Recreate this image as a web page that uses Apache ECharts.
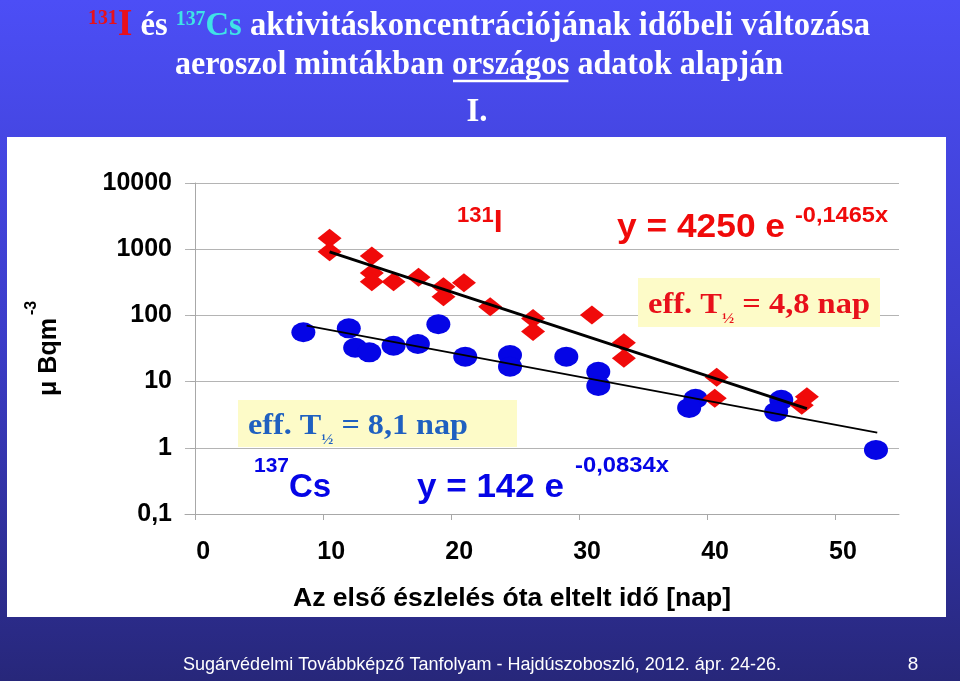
<!DOCTYPE html>
<html><head><meta charset="utf-8">
<script src="https://cdn.jsdelivr.net/npm/echarts@6/dist/echarts.min.js"></script>
<style>html,body{margin:0;padding:0;background:#3a3ad0}#c{width:960px;height:681px}</style>
</head><body><div id="c"></div>
<script>
// ---- data (day, activity concentration µBq/m3) ----
const iDays   = [10.5, 10.5, 13.8, 13.8, 13.8, 15.5, 17.45, 19.4, 19.4, 21.0, 23.05, 26.4, 26.4, 31.0, 33.5, 33.5, 40.75, 40.6, 47.8, 47.4];
const iValues = [1460, 917, 789, 437, 323, 323, 377, 272, 192, 312, 135, 90, 57, 101, 38.7, 22.5, 11.6, 5.6, 5.9, 4.4];
const csDays   = [8.45, 12.0, 12.5, 13.6, 15.5, 17.4, 19.0, 21.1, 24.6, 24.6, 29.0, 31.5, 31.5, 39.1, 38.6, 45.8, 45.4, 53.2];
const csValues = [55.6, 63.8, 32.5, 27.7, 34.8, 37, 73.5, 23.8, 25.2, 16.8, 23.8, 14.1, 8.6, 5.5, 4.0, 5.3, 3.5, 0.93];
// fitted trend lines (end points): y = 4250 e^-0.1465x  and  y = 142 e^-0.0834x
const iFitDays = [10.5, 47.8];
const iFitValues = [913, 3.9];
const csFitDays = [8.7, 53.3];
const csFitValues = [70, 1.7];
const xTickValues = [0, 10, 20, 30, 40, 50];
const yTickLabels = ['0,1', '1', '10', '100', '1000', '10000'];

const SANS = '"Liberation Sans", Arial, sans-serif';
const SERIF = '"Liberation Serif", "Times New Roman", serif';
const RED = '#f00a0a', BLUE = '#0505e6';

const ctx = document.createElement('canvas').getContext('2d');
function fontOf(s) { return (s.w || 'bold') + ' ' + s.size + 'px ' + (s.fam || SANS); }
function run(segs, opt) {
  const ws = segs.map(s => { ctx.font = fontOf(s); return ctx.measureText(s.t).width; });
  const tot = ws.reduce((a, b) => a + b, 0);
  const sc = opt.width ? opt.width / tot : 1;
  let x = opt.left != null ? opt.left : opt.center - tot * sc / 2;
  const els = [];
  segs.forEach((s, i) => {
    els.push({ type: 'text', x: x, y: s.bl - 0.32 * s.size, scaleX: sc, z: opt.z || 10, silent: true,
      style: { text: s.t, font: fontOf(s), fill: s.c, textAlign: 'left', verticalAlign: 'middle' } });
    s.x0 = x; s.x1 = x + ws[i] * sc;
    x += ws[i] * sc;
  });
  return els;
}

const graphics = [];
// slide background & white panel
graphics.push({ type: 'rect', z: -20, silent: true, shape: { x: 0, y: 0, width: 960, height: 681 },
  style: { fill: { type: 'linear', x: 0, y: 0, x2: 0, y2: 1, colorStops: [
    { offset: 0, color: '#4c4ef6' }, { offset: 0.5, color: '#3b3cc8' }, { offset: 1, color: '#27277a' }] } } });
graphics.push({ type: 'rect', z: -10, silent: true, shape: { x: 7, y: 137, width: 939, height: 480 }, style: { fill: '#ffffff' } });

// title
graphics.push(...run([
  { t: '131', size: 20, fam: SERIF, c: '#e8101a', bl: 25 },
  { t: 'I', size: 38, fam: SERIF, c: '#e8101a', bl: 37 },
  { t: ' és ', size: 33, fam: SERIF, c: '#ffffff', bl: 37 },
  { t: '137', size: 20, fam: SERIF, c: '#3fe3e6', bl: 26 },
  { t: 'Cs', size: 33, fam: SERIF, c: '#3fe3e6', bl: 37 },
  { t: ' aktivitáskoncentrációjának időbeli változása', size: 33, fam: SERIF, c: '#ffffff', bl: 37 }
], { left: 88, width: 782 }));
const l2 = [
  { t: 'aeroszol mintákban ', size: 33, fam: SERIF, c: '#ffffff', bl: 76 },
  { t: 'országos', size: 33, fam: SERIF, c: '#ffffff', bl: 76 },
  { t: ' adatok alapján', size: 33, fam: SERIF, c: '#ffffff', bl: 76 }
];
graphics.push(...run(l2, { left: 175, width: 608 }));
graphics.push({ type: 'line', z: 10, silent: true, shape: { x1: l2[1].x0 + 1, y1: 81, x2: l2[1].x1 - 1, y2: 81 },
  style: { stroke: '#ffffff', lineWidth: 2.5 } });
graphics.push(...run([{ t: 'I.', size: 33, fam: SERIF, c: '#ffffff', bl: 123 }], { center: 477 }));

// footer
graphics.push(...run([{ t: 'Sugárvédelmi Továbbképző Tanfolyam - Hajdúszoboszló, 2012. ápr. 24-26.', size: 19, w: 'normal', c: '#ffffff', bl: 671 }], { left: 183, width: 598 }));
graphics.push(...run([{ t: '8', size: 19, w: 'normal', c: '#ffffff', bl: 671 }], { center: 913 }));

// axis titles
graphics.push({ type: 'group', x: 49, y: 348, rotation: Math.PI / 2, z: 10, silent: true, children: [
  { type: 'text', x: -9, y: 0, style: { text: 'μ Bqm', font: 'bold 25px ' + SANS, fill: '#000', textAlign: 'center', verticalAlign: 'middle' } },
  { type: 'text', x: 40, y: -17, style: { text: '-3', font: 'bold 16px ' + SANS, fill: '#000', textAlign: 'center', verticalAlign: 'middle' } }
] });
graphics.push(...run([{ t: 'Az első észlelés óta eltelt idő [nap]', size: 26, c: '#000000', bl: 607 }], { left: 293, width: 438 }));

// annotations
graphics.push(...run([
  { t: '131', size: 22, c: RED, bl: 223 },
  { t: 'I', size: 32, c: RED, bl: 233 }
], { left: 457 }));
graphics.push(...run([{ t: 'y = 4250 e', size: 33, c: RED, bl: 238 }], { left: 617, width: 168 }));
graphics.push(...run([{ t: '-0,1465x', size: 22, c: RED, bl: 223 }], { left: 795, width: 93 }));
graphics.push({ type: 'rect', z: 1, silent: true, shape: { x: 638, y: 278, width: 242, height: 49 }, style: { fill: '#fdfbc8' } });
graphics.push(...run([
  { t: 'eff. T', size: 30, fam: SERIF, c: '#e8101a', bl: 315 },
  { t: '½', size: 15, fam: SERIF, c: '#e8101a', bl: 324 },
  { t: ' = 4,8 nap', size: 30, fam: SERIF, c: '#e8101a', bl: 315 }
], { left: 648, width: 222 }));
graphics.push({ type: 'rect', z: 1, silent: true, shape: { x: 238, y: 400, width: 279, height: 47 }, style: { fill: '#fdfbc8' } });
graphics.push(...run([
  { t: 'eff. T', size: 30, fam: SERIF, c: '#1f60c0', bl: 436 },
  { t: '½', size: 15, fam: SERIF, c: '#1f60c0', bl: 445 },
  { t: ' = 8,1 nap', size: 30, fam: SERIF, c: '#1f60c0', bl: 436 }
], { left: 248, width: 220 }));
graphics.push(...run([
  { t: '137', size: 21, c: BLUE, bl: 473 },
  { t: 'Cs', size: 33, c: BLUE, bl: 498 }
], { left: 254 }));
graphics.push(...run([{ t: 'y = 142 e', size: 33, c: BLUE, bl: 498 }], { left: 417, width: 147 }));
graphics.push(...run([{ t: '-0,0834x', size: 22, c: BLUE, bl: 473 }], { left: 575, width: 94 }));

const ellipse = 'path://M0,50A50,50,0,1,1,100,50A50,50,0,1,1,0,50Z';
const zip = (a, b) => a.map((v, i) => [v, b[i]]);

const chart = echarts.init(document.getElementById('c'), null, { renderer: 'canvas' });
chart.setOption({
  animation: false,
  grid: { left: 185, right: 61, top: 183, bottom: 167, containLabel: false },
  xAxis: {
    type: 'value', min: -0.8, max: 55,
    splitLine: { show: false },
    axisLine: { show: true, lineStyle: { color: '#a8a8a8', width: 1 } },
    axisTick: { show: true, customValues: xTickValues, length: 6, lineStyle: { color: '#a8a8a8' } },
    axisLabel: { customValues: xTickValues, margin: 26, padding: [0, 0, 0, 16], color: '#000', fontSize: 25, fontWeight: 'bold', fontFamily: SANS }
  },
  yAxis: {
    type: 'log', logBase: 10, min: 0.1, max: 10000,
    splitLine: { show: true, lineStyle: { color: '#b4b4b4', width: 1 } },
    axisLine: { show: true, lineStyle: { color: '#a8a8a8', width: 1 } },
    axisTick: { show: true, length: 5, lineStyle: { color: '#a8a8a8' } },
    minorTick: { show: false },
    axisLabel: { margin: 13, color: '#000', fontSize: 25, fontWeight: 'bold', fontFamily: SANS,
      formatter: v => yTickLabels[Math.round(Math.log10(v)) + 1] }
  },
  graphic: graphics,
  series: [
    { type: 'scatter', name: '137Cs', data: zip(csDays, csValues), symbol: ellipse, symbolSize: [24, 20], itemStyle: { color: BLUE, opacity: 1 }, z: 3 },
    { type: 'scatter', name: '131I', data: zip(iDays, iValues), symbol: 'diamond', symbolSize: [24, 19], itemStyle: { color: RED, opacity: 1 }, z: 4 },
    { type: 'line', data: zip(iFitDays, iFitValues), symbol: 'none', lineStyle: { color: '#000', width: 3 }, z: 5 },
    { type: 'line', data: zip(csFitDays, csFitValues), symbol: 'none', lineStyle: { color: '#000', width: 1.8 }, z: 5 }
  ]
});
</script></body></html>
